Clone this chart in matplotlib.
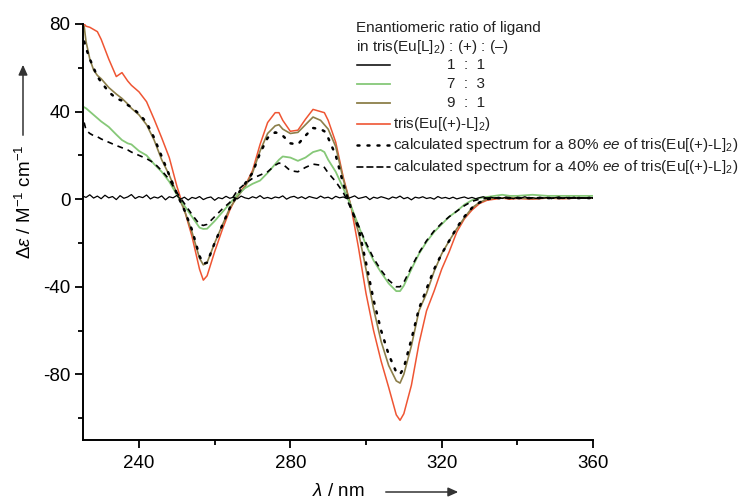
import matplotlib
matplotlib.use("Agg")
import matplotlib.pyplot as plt
from matplotlib.lines import Line2D
import numpy as np

plt.rcParams['font.family'] = ['Liberation Sans', 'DejaVu Sans']
plt.rcParams['mathtext.fontset'] = 'custom'
plt.rcParams['mathtext.rm'] = 'Liberation Sans'
plt.rcParams['mathtext.it'] = 'Liberation Sans:italic'
plt.rcParams['mathtext.bf'] = 'Liberation Sans:bold'
plt.rcParams['axes.unicode_minus'] = False

# ---------------- data ----------------
wavelength = [225.5, 226, 227, 228, 229, 230, 232, 234, 235.5, 237, 238, 240, 242, 244, 246, 248,
              250, 252, 254, 256, 257, 258, 260, 262, 264, 266, 268, 270, 272, 274, 276, 277,
              278, 280, 282, 284, 286, 288, 289, 290, 292, 294, 296, 298, 300, 302, 304, 306,
              308, 309, 310, 312, 314, 316, 318, 320, 322, 324, 326, 328, 330, 332, 334, 336,
              338, 340, 344, 348, 352, 356, 360]

tris_plus = [80, 79, 78.5, 77.5, 76.5, 73, 64, 56, 57.8, 54, 52, 49, 44.5, 36.5, 28, 19,
             6, -5, -17, -32, -37, -35, -24, -14, -5, 2, 6, 13, 25, 35, 39.5, 39.5,
             36, 31, 31.5, 36.5, 41, 40, 39.5, 36, 26, 10, -3, -22, -43, -60, -74, -86,
             -98.5, -101, -98, -85, -66, -51, -42, -32, -24, -15, -9, -5, -2, -0.5, 0, 0.5,
             0, 0.3, 0, 0.5, 0.2, 0.5, 0.5]

ratio_9_1 = [79, 72, 64, 59, 56.5, 55, 51, 48, 46, 43.5, 41.5, 38.5, 34, 27, 18, 11,
             2.5, -5, -15, -27, -30, -29, -20, -12, -4, 1, 5.5, 12, 22, 30, 33.5, 34,
             32, 30, 30.5, 34, 37.5, 36, 34, 32, 24, 9, -3, -15, -32, -50, -65, -76,
             -83, -84, -80, -67, -51, -43, -33, -25, -19, -13.5, -8.5, -4, -1.5, 0, 0.5, 0.5,
             0.8, 0.5, 0.3, 0.6, 0.4, 0.6, 0.5]

ratio_7_3 = [42, 41.5, 40, 38.5, 37, 35.5, 33, 29.5, 27, 25.5, 25, 22, 20, 16, 12.5, 8,
             2, -3, -8, -13, -13.6, -13.5, -10, -6, -2, 2, 5, 7, 8.5, 12, 16, 18,
             19.5, 19, 17.5, 19, 21.5, 22.5, 21.5, 18, 12.5, 5, -3, -12, -21, -28, -33.5, -38.5,
             -42, -42, -39.5, -32, -25, -19.5, -15, -11.5, -8, -5.5, -2.5, -0.5, 0.5, 1, 1.5, 2,
             1.5, 1.5, 2, 1.5, 1.5, 1.5, 1.5]

calc_80ee = [72, 69, 64, 60, 56, 53.5, 49, 46, 45, 43, 42, 39, 35, 28, 19.5, 11,
             2.5, -5, -14, -26, -29.5, -29, -20, -12, -4, 2, 7, 12, 21, 28, 30.5, 30,
             29, 25.5, 25, 29, 32.5, 32, 31, 28, 20, 7, -4, -13, -29, -46, -60, -71,
             -79, -80, -77, -64, -50, -41, -32, -25, -19, -13, -8, -4, -1.5, 0, 0.5, 0.5,
             0.5, 0.5, 0.5, 0.5, 0.5, 0.5, 0.5]

calc_40ee = [35, 31.5, 30, 29, 28.5, 27.5, 26, 24.5, 23.5, 22.5, 21.5, 20, 18.5, 16.5, 13, 9,
             3, -2, -7, -11.5, -12, -11.5, -8, -4.5, -1.5, 4, 7, 9.5, 11, 12.5, 15.5, 16.5,
             16, 13, 12.5, 14.5, 16, 15.5, 14.5, 12, 8, 3, -4, -12, -20, -27, -32.5, -37,
             -40, -40, -38, -31, -24.5, -19, -14.5, -11, -8, -5.5, -3, -1, 0, 0.5, 0.5, 0.5,
             0.5, 0.5, 0.5, 0.5, 0.5, 0.5, 0.5]

racemic_wavelength = list(range(225, 361))
racemic_1_1 = [1.5, 0.8, 2.0, 0.5, 1.4, 0.2, 1.8, 0.6, 1.2, -0.2,
               1.6, 0.4, 1.0, 2.1, 0.3, 1.2, 0.7, 1.9, 0.1, 1.0,
               0.5, 1.5, -0.3, 1.1, 0.6, 1.7, 0.0, 0.9, -0.4, 0.8,
               0.3, 1.2, -0.2, 0.6, 1.0, -0.5, 0.7, 0.2, 1.3, 0.4,
               0.9, 0.1, 1.4, 0.6, 0.2, 1.1, 0.5, 1.6, 0.3, 0.8,
               0.2, 1.0, 0.6, 1.5, 0.0, 0.9, 1.3, 0.4, 1.1, 0.2,
               1.2, 0.7, 0.3, 1.4, 0.5, 0.9, 0.1, 1.3, 0.6, 1.0,
               0.2, 0.8, 1.5, 0.3, 0.7, 1.2, -0.2, 0.9, 0.4, 1.1,
               0.6, 0.0, 1.0, 0.5, 1.4, 0.2, 0.8, -0.3, 0.9, 0.5,
               1.1, 0.3, 0.7, 0.0, 1.2, 0.4, 0.8, 0.2, 0.9, 0.1,
               0.6, 1.0, 0.3, 0.8, 0.2, 0.7, 1.1, 0.4, 0.9, 0.5,
               0.8, 0.3, 1.0, 0.6, 0.2, 0.9, 0.5, 1.1, 0.4, 0.7,
               0.3, 0.9, 0.5, 0.8, 0.2, 0.7, 1.0, 0.4, 0.8, 0.5,
               0.9, 0.3, 0.7, 0.5, 0.8, 0.6]

x_major = [240, 280, 320, 360]
x_minor = [260, 300, 340]
y_major = [-80, -40, 0, 40, 80]
y_minor = [-100, -60, -20, 20, 60]

# ---------------- styles ----------------
RED = '#EF5533'
GREEN = '#86C878'
OLIVE = '#8C7F4A'
W, H = 739, 501

fig = plt.figure(figsize=(W / 100, H / 100), dpi=100)
ax = fig.add_axes([83 / W, 1 - 440 / H, (593 - 83) / W, (440 - 24) / H])

ax.plot(wavelength, tris_plus, color=RED, lw=1.1)
ax.plot(wavelength, ratio_9_1, color=OLIVE, lw=1.2)
ax.plot(wavelength, ratio_7_3, color=GREEN, lw=1.3)
ax.plot(wavelength, calc_80ee, color='black', lw=1.8, ls=(0, (0.8, 3.2)), dash_capstyle='round')
ax.plot(wavelength, calc_40ee, color='black', lw=1.2, ls=(0, (3.5, 3)))
ax.plot(racemic_wavelength, racemic_1_1, color='black', lw=0.9)

ax.set_xlim(225.2, 360)
ax.set_ylim(-110, 80)
ax.set_xticks(x_major)
ax.set_xticks(x_minor, minor=True)
ax.set_yticks(y_major)
ax.set_yticks(y_minor, minor=True)
ax.set_yticklabels([str(v) for v in y_major])
for s in ['top', 'right']:
    ax.spines[s].set_visible(False)
for s in ['left', 'bottom']:
    ax.spines[s].set_linewidth(1.4)
ax.tick_params(which='major', direction='out', length=6, width=1.3, labelsize=13.5, pad=3)
ax.tick_params(which='minor', direction='out', length=3.5, width=1.3)
ax.tick_params(axis='x', which='major', pad=5)

def fx(px):
    return px / W

def fy(py):
    return 1 - py / H

# axis labels with arrows
fig.text(fx(25), fy(202), r'$\it{Δε}$ / M$^{-1}$ cm$^{-1}$', rotation=90,
         ha='center', va='center', fontsize=13.5)
fig.add_artist(matplotlib.patches.FancyArrowPatch((fx(23), fy(138)), (fx(23), fy(62)),
               transform=fig.transFigure, arrowstyle='-|>,head_length=4,head_width=1.8',
               color='#333333', lw=1.1, mutation_scale=1.5))
fig.text(fx(338), fy(491), r'$\it{λ}$ / nm', ha='center', va='center', fontsize=13.5)
fig.add_artist(matplotlib.patches.FancyArrowPatch((fx(383), fy(492)), (fx(461), fy(492)),
               transform=fig.transFigure, arrowstyle='-|>,head_length=4,head_width=1.8',
               color='#333333', lw=1.1, mutation_scale=1.5))

# manual legend
LFS = 11
fig.text(fx(356), fy(28), 'Enantiomeric ratio of ligand', ha='left', va='center', fontsize=LFS, color='#222222')
fig.text(fx(356), fy(47), r'in tris(Eu[L]$_2$) : (+) : (–)', ha='left', va='center', fontsize=LFS, color='#222222')
entries = [
    (65, 'black', '-', 1.1, '1  :  1', 447),
    (84, GREEN, '-', 1.3, '7  :  3', 447),
    (103, OLIVE, '-', 1.3, '9  :  1', 447),
    (124, RED, '-', 1.2, r'tris(Eu[(+)-L]$_2$)', 393),
    (145, 'black', (0, (0.8, 3.2)), 1.8, r'calculated spectrum for a 80% $\it{ee}$ of tris(Eu[(+)-L]$_2$)', 393),
    (167, 'black', (0, (3.5, 2.5)), 1.2, r'calculated spectrum for a 40% $\it{ee}$ of tris(Eu[(+)-L]$_2$)', 393),
]
for py, c, ls, lw, label, tx in entries:
    fig.add_artist(Line2D([fx(357), fx(390)], [fy(py), fy(py)], transform=fig.transFigure,
                          color=c, ls=ls, lw=lw, dash_capstyle='round'))
    fig.text(fx(tx), fy(py), label, ha='left', va='center', fontsize=LFS, color='#222222')

fig.savefig('out.png', dpi=100)
